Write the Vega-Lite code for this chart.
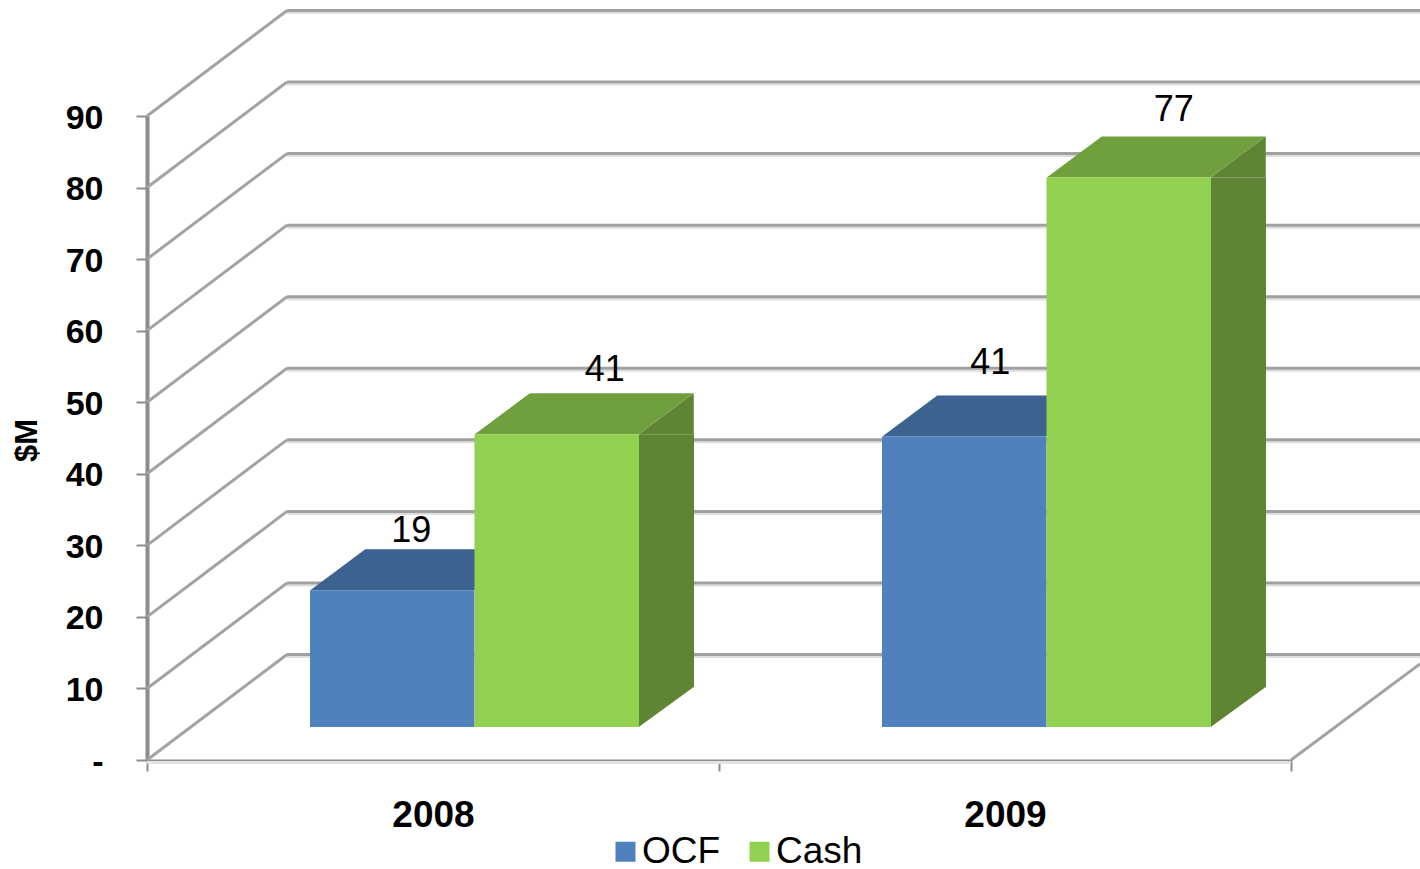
{
"$schema":"https://vega.github.io/schema/vega-lite/v6.json",
"width":1144,"height":644,
"autosize":{"type":"none"},
"padding":{"left":147,"top":116,"right":129,"bottom":109},
"background":"white",
"config":{"view":{"stroke":null},"font":"Liberation Sans"},
"datasets":{
 "bars":[
  {"year":"2008","series":"OCF","value":19.1},
  {"year":"2008","series":"Cash","value":40.9},
  {"year":"2009","series":"OCF","value":40.6},
  {"year":"2009","series":"Cash","value":76.8}
 ],
 "ticks":[{"v":0},{"v":10},{"v":20},{"v":30},{"v":40},{"v":50},{"v":60},{"v":70},{"v":80},{"v":90}]
},
"layer":[
 {"data":{"name":"ticks"},"mark":{"type":"point","shape":"M-146 -103L987 -103","size":4,"filled":false,"fill":null,"stroke":"#dedede","strokeWidth":2,"opacity":1},
  "encoding":{"x":{"datum":"2008","type":"nominal"},"y":{"field":"v","type":"quantitative","scale":{"domain":[0,90]}}}},
 {"data":{"name":"ticks"},"mark":{"type":"point","shape":"M-146 -105.5L987 -105.5","size":4,"filled":false,"fill":null,"stroke":"#a0a0a0","strokeWidth":3,"opacity":1},
  "encoding":{"x":{"datum":"2008","type":"nominal"},"y":{"field":"v","type":"quantitative"}}},
 {"data":{"name":"ticks"},"mark":{"type":"point","shape":"M-286 0L-146 -105.5","size":4,"filled":false,"fill":null,"stroke":"#a3a3a3","strokeWidth":3,"opacity":1},
  "encoding":{"x":{"datum":"2008","type":"nominal"},"y":{"field":"v","type":"quantitative"}}},
 {"data":{"values":[{"v":0}]},"mark":{"type":"point","shape":"M286 0L415 -96","size":4,"filled":false,"fill":null,"stroke":"#a3a3a3","strokeWidth":3,"opacity":1},
  "encoding":{"x":{"datum":"2009","type":"nominal"},"y":{"field":"v","type":"quantitative"}}},
 {"data":{"values":[{"v":0}]},"mark":{"type":"point","shape":"M-286 2.5L858 2.5","size":4,"filled":false,"fill":null,"stroke":"#e2e2e2","strokeWidth":3,"opacity":1},
  "encoding":{"x":{"datum":"2008","type":"nominal"},"y":{"field":"v","type":"quantitative"}}},
 {"data":{"name":"bars"},"transform":[{"filter":"datum.series=='Cash'"}],
  "mark":{"type":"bar","fill":"#5f8434","width":55,"xOffset":233.5,"yOffset":-33,"y2Offset":-73},
  "encoding":{"x":{"field":"year","type":"nominal"},"y":{"field":"value","type":"quantitative","stack":null},"y2":{"datum":0}}},
 {"data":{"name":"bars"},"transform":[{"filter":"datum.series=='Cash'"}],
  "mark":{"type":"point","shape":"M82 -33L82 -73L137 -73Z","size":4,"filled":true,"fill":"#5f8434","strokeWidth":0,"opacity":1},
  "encoding":{"x":{"field":"year","type":"nominal"},"xOffset":{"field":"series","type":"nominal"},"y":{"datum":0,"type":"quantitative"}}},
 {"data":{"name":"bars"},"transform":[{"filter":"datum.series=='Cash'"}],
  "mark":{"type":"point","shape":"M82 -33L137 -74L137 -33Z","size":4,"filled":true,"fill":"#5f8434","strokeWidth":0,"opacity":1},
  "encoding":{"x":{"field":"year","type":"nominal"},"xOffset":{"field":"series","type":"nominal"},"y":{"field":"value","type":"quantitative"}}},
 {"data":{"name":"bars"},"transform":[{"filter":"datum.series=='OCF'"}],
  "mark":{"type":"point","shape":"M-82 -33L82 -33L137 -74L-27 -74Z","size":4,"filled":true,"fill":"#3c6290","strokeWidth":0,"opacity":1},
  "encoding":{"x":{"field":"year","type":"nominal"},"xOffset":{"field":"series","type":"nominal"},"y":{"field":"value","type":"quantitative"}}},
 {"data":{"name":"bars"},"transform":[{"filter":"datum.series=='Cash'"}],
  "mark":{"type":"point","shape":"M-82 -33L82 -33L137 -74L-27 -74Z","size":4,"filled":true,"fill":"#709f3e","strokeWidth":0,"opacity":1},
  "encoding":{"x":{"field":"year","type":"nominal"},"xOffset":{"field":"series","type":"nominal"},"y":{"field":"value","type":"quantitative"}}},
 {"data":{"name":"bars"},
  "mark":{"type":"bar","yOffset":-33,"y2Offset":-33},
  "encoding":{
   "x":{"field":"year","type":"nominal","title":null,"scale":{"paddingInner":0,"paddingOuter":0,"domain":["2008","2009"]},
    "axis":{"labelAngle":0,"labelAlign":"center","labelFont":"Liberation Sans","labelFontWeight":"bold","labelFontSize":37,"labelColor":"#000000","labelPadding":44,"domainColor":"#909090","domainWidth":2,"tickColor":"#8c8c8c","tickWidth":2,"tickSize":11,"tickBand":"extent"}},
   "xOffset":{"field":"series","type":"nominal","scale":{"domain":["OCF","Cash"],"range":[163,492],"paddingInner":0,"paddingOuter":0}},
   "y":{"field":"value","type":"quantitative","stack":null,"title":"$M",
    "axis":{"values":[0,10,20,30,40,50,60,70,80,90],"grid":false,"labelExpr":"datum.value==0?'-':datum.label","labelFont":"Liberation Sans","labelFontWeight":"bold","labelFontSize":34,"labelColor":"#000000","labelPadding":33,"labelOffset":2,"domainColor":"#8c8c8c","domainWidth":4,"tickColor":"#8c8c8c","tickWidth":2,"tickSize":11,"titleFont":"Liberation Sans","titleFontWeight":"bold","titleFontSize":31,"titleColor":"#000000","titleX":-104,"titleY":324}},
   "y2":{"datum":0},
   "color":{"field":"series","type":"nominal","scale":{"domain":["OCF","Cash"],"range":["#4f81bd","#92d050"]},
    "legend":{"title":null,"orient":"none","legendX":460,"legendY":717,"direction":"horizontal","symbolType":"square","symbolSize":400,"symbolStrokeWidth":0,"symbolOpacity":1,"labelFont":"Liberation Sans","labelFontSize":37,"labelColor":"#000000","labelOffset":-2,"columnPadding":20}}
  }},
 {"data":{"name":"bars"},"transform":[{"filter":"datum.year=='2008'&&datum.series=='OCF'"}],
  "mark":{"type":"text","fontSize":36,"font":"Liberation Sans","fill":"#000000","baseline":"middle","dx":19,"dy":-92},
  "encoding":{"x":{"field":"year","type":"nominal"},"xOffset":{"field":"series","type":"nominal"},"y":{"field":"value","type":"quantitative"},"text":{"field":"value","type":"quantitative","format":".0f"}}},
 {"data":{"name":"bars"},"transform":[{"filter":"datum.year=='2008'&&datum.series=='Cash'"}],
  "mark":{"type":"text","fontSize":36,"font":"Liberation Sans","fill":"#000000","baseline":"middle","dx":48,"dy":-97},
  "encoding":{"x":{"field":"year","type":"nominal"},"xOffset":{"field":"series","type":"nominal"},"y":{"field":"value","type":"quantitative"},"text":{"field":"value","type":"quantitative","format":".0f"}}},
 {"data":{"name":"bars"},"transform":[{"filter":"datum.year=='2009'&&datum.series=='OCF'"}],
  "mark":{"type":"text","fontSize":36,"font":"Liberation Sans","fill":"#000000","baseline":"middle","dx":26,"dy":-106},
  "encoding":{"x":{"field":"year","type":"nominal"},"xOffset":{"field":"series","type":"nominal"},"y":{"field":"value","type":"quantitative"},"text":{"field":"value","type":"quantitative","format":".0f"}}},
 {"data":{"name":"bars"},"transform":[{"filter":"datum.year=='2009'&&datum.series=='Cash'"}],
  "mark":{"type":"text","fontSize":36,"font":"Liberation Sans","fill":"#000000","baseline":"middle","dx":45,"dy":-100},
  "encoding":{"x":{"field":"year","type":"nominal"},"xOffset":{"field":"series","type":"nominal"},"y":{"field":"value","type":"quantitative"},"text":{"field":"value","type":"quantitative","format":".0f"}}}
]
}
